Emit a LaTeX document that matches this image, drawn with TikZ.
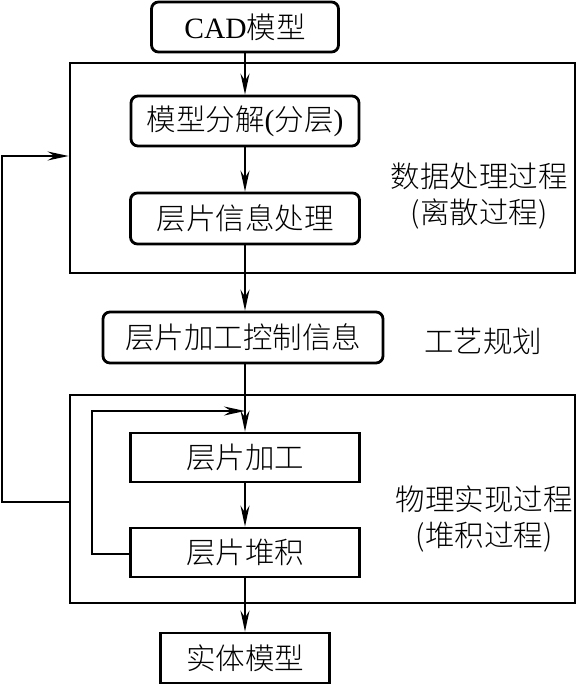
\documentclass[tikz,border=0pt]{standalone}
\usepackage{fontspec}
\setmainfont{Liberation Serif}
\newfontfamily\zhf{Noto Sans CJK SC}[UprightFont={* Light}]
\usetikzlibrary{arrows.meta}
\begin{document}
\begin{tikzpicture}[x=1pt,y=-1pt,
  box/.style={draw, line width=2.8pt, inner sep=0pt, minimum height=50pt,
    font=\fontsize{29.5}{36}\selectfont},
  rbox/.style={box, rounded corners=7pt},
  bigframe/.style={draw, line width=2.8pt, inner sep=0pt},
  lbl/.style={align=center, inner sep=0pt, font=\fontsize{29.5}{36}\selectfont\zhf},
  wire/.style={line width=1.7pt},
  conn/.style={wire, -{Stealth[length=21pt,width=9pt,inset=7pt]}}]
\useasboundingbox (0,0) rectangle (578,685);
% frames
\node[bigframe, minimum width=505pt, minimum height=210pt] (big1) at (322.5,168) {};
\node[bigframe, minimum width=505pt, minimum height=208pt] (big2) at (322.5,499) {};
% boxes
\node[rbox, minimum width=187pt] (cad) at (245,27) {CAD{\zhf 模型}};
\node[rbox, minimum width=228pt] (mx) at (245,121) {{\zhf 模型分解}({\zhf 分层})};
\node[rbox, minimum width=229pt, minimum height=51pt] (cp) at (245,218.5) {\zhf 层片信息处理};
\node[rbox, minimum width=280pt, minimum height=51pt] (kz) at (243,337.5) {\zhf 层片加工控制信息};
\node[box, minimum width=229pt, minimum height=49pt] (jg) at (245,457.5) {\zhf 层片加工};
\node[box, minimum width=229pt, minimum height=49pt] (dj) at (245,552.5) {\zhf 层片堆积};
\node[box, minimum width=169pt] (st) at (245,658) {\zhf 实体模型};
% labels
\node[lbl] (t1) at (479,196) {数据处理过程\\(离散过程)};
\node[lbl] (t2) at (483,341) {工艺规划};
\node[lbl] (t3) at (484,519) {物理实现过程\\(堆积过程)};
% coordinates
\coordinate (loopL) at (92,554);
\coordinate (loopT) at (92,411);
\coordinate (loopE) at (245,411);
\coordinate (fbB) at (2,502);
\coordinate (fbT) at (2,156);
% connectors
\draw[conn] (cad) -- (mx);
\draw[conn] (mx) -- (cp);
\draw[conn] (cp) -- (cp |- kz.north);
\draw[conn] (cp |- kz.south) -- (jg);
\draw[conn] (jg) -- (dj);
\draw[conn] (dj) -- (st);
\draw[conn] (dj.west |- loopL) -- (loopL) -- (loopT) -- (loopE);
\draw[conn] (big2.west |- fbB) -- (fbB) -- (fbT) -- (big1.west |- fbT);
\end{tikzpicture}
\end{document}
